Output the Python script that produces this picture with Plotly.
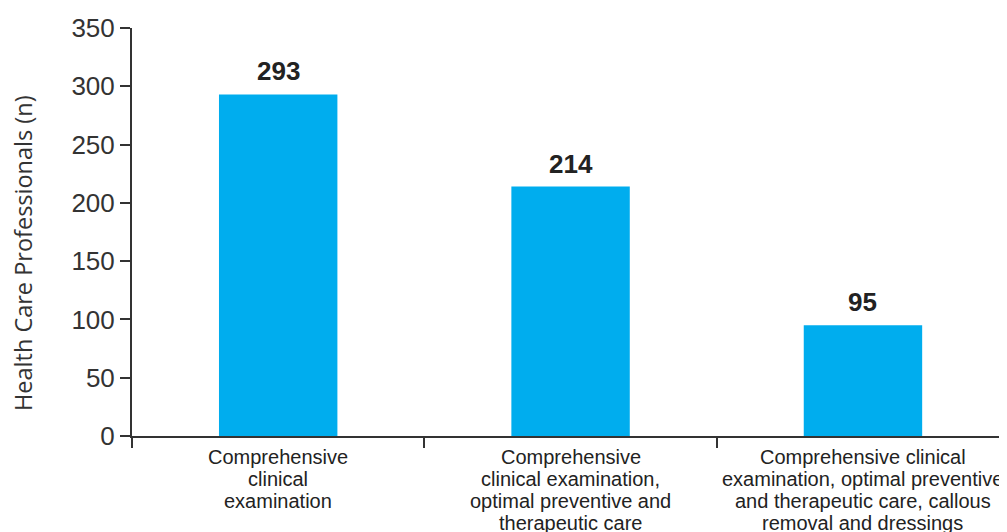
import plotly.graph_objects as go

categories = ["cat1", "cat2", "cat3"]
category_lines = [
    ["Comprehensive", "clinical", "examination"],
    ["Comprehensive", "clinical examination,", "optimal preventive and", "therapeutic care"],
    ["Comprehensive clinical", "examination, optimal preventive", "and therapeutic care, callous", "removal and dressings"],
]
values = [293, 214, 95]
y_ticks = [0, 50, 100, 150, 200, 250, 300, 350]

fig = go.Figure()
fig.add_trace(go.Bar(
    x=categories, y=values, width=0.405,
    marker=dict(color="#00ADEE", line=dict(width=0)),
    hoverinfo="skip",
))

# value labels above bars
for c, v in zip(categories, values):
    fig.add_annotation(
        x=c, y=v, xref="x", yref="y", text=f"<b>{v}</b>", showarrow=False,
        yanchor="bottom", yshift=6,
        font=dict(family="Liberation Sans, Arial", size=26, color="#222222"),
    )

# category labels (tight line spacing)
line_gap = 22
for c, lines in zip(categories, category_lines):
    for i, ln in enumerate(lines):
        fig.add_annotation(
            x=c, y=0, xref="x", yref="paper", text=ln, showarrow=False,
            yanchor="middle", yshift=-(21 + i * line_gap),
            font=dict(family="Liberation Sans, Arial", size=20, color="#222222"),
        )

# y-axis title
fig.add_annotation(
    x=0, y=0.5, xref="paper", yref="paper", text="Health Care Professionals (n)",
    showarrow=False, textangle=-90, xanchor="center", yanchor="middle",
    xshift=-109, yshift=-21,
    font=dict(family="Open Sans", size=23.5, color="#333333"),
)

fig.update_layout(
    width=1007, height=532,
    margin=dict(l=124, r=0, t=20, b=104, autoexpand=False),
    plot_bgcolor="white", paper_bgcolor="white",
    showlegend=False,
    font=dict(family="Liberation Sans, Arial", color="#333333"),
)
fig.update_xaxes(
    range=[-0.5, 2.52], showline=True, linecolor="#333333", linewidth=2,
    ticks="outside", tickson="boundaries", ticklen=10, tickwidth=2, tickcolor="#333333",
    showticklabels=False, showgrid=False, zeroline=False,
)
fig.update_yaxes(
    range=[0, 350], tickvals=y_ticks, showline=True, linecolor="#333333", linewidth=2,
    ticks="outside", ticklen=10, tickwidth=2, tickcolor="#333333",
    tickfont=dict(size=26, color="#333333"), showgrid=False, zeroline=False,
)
fig.write_html("out.html")
